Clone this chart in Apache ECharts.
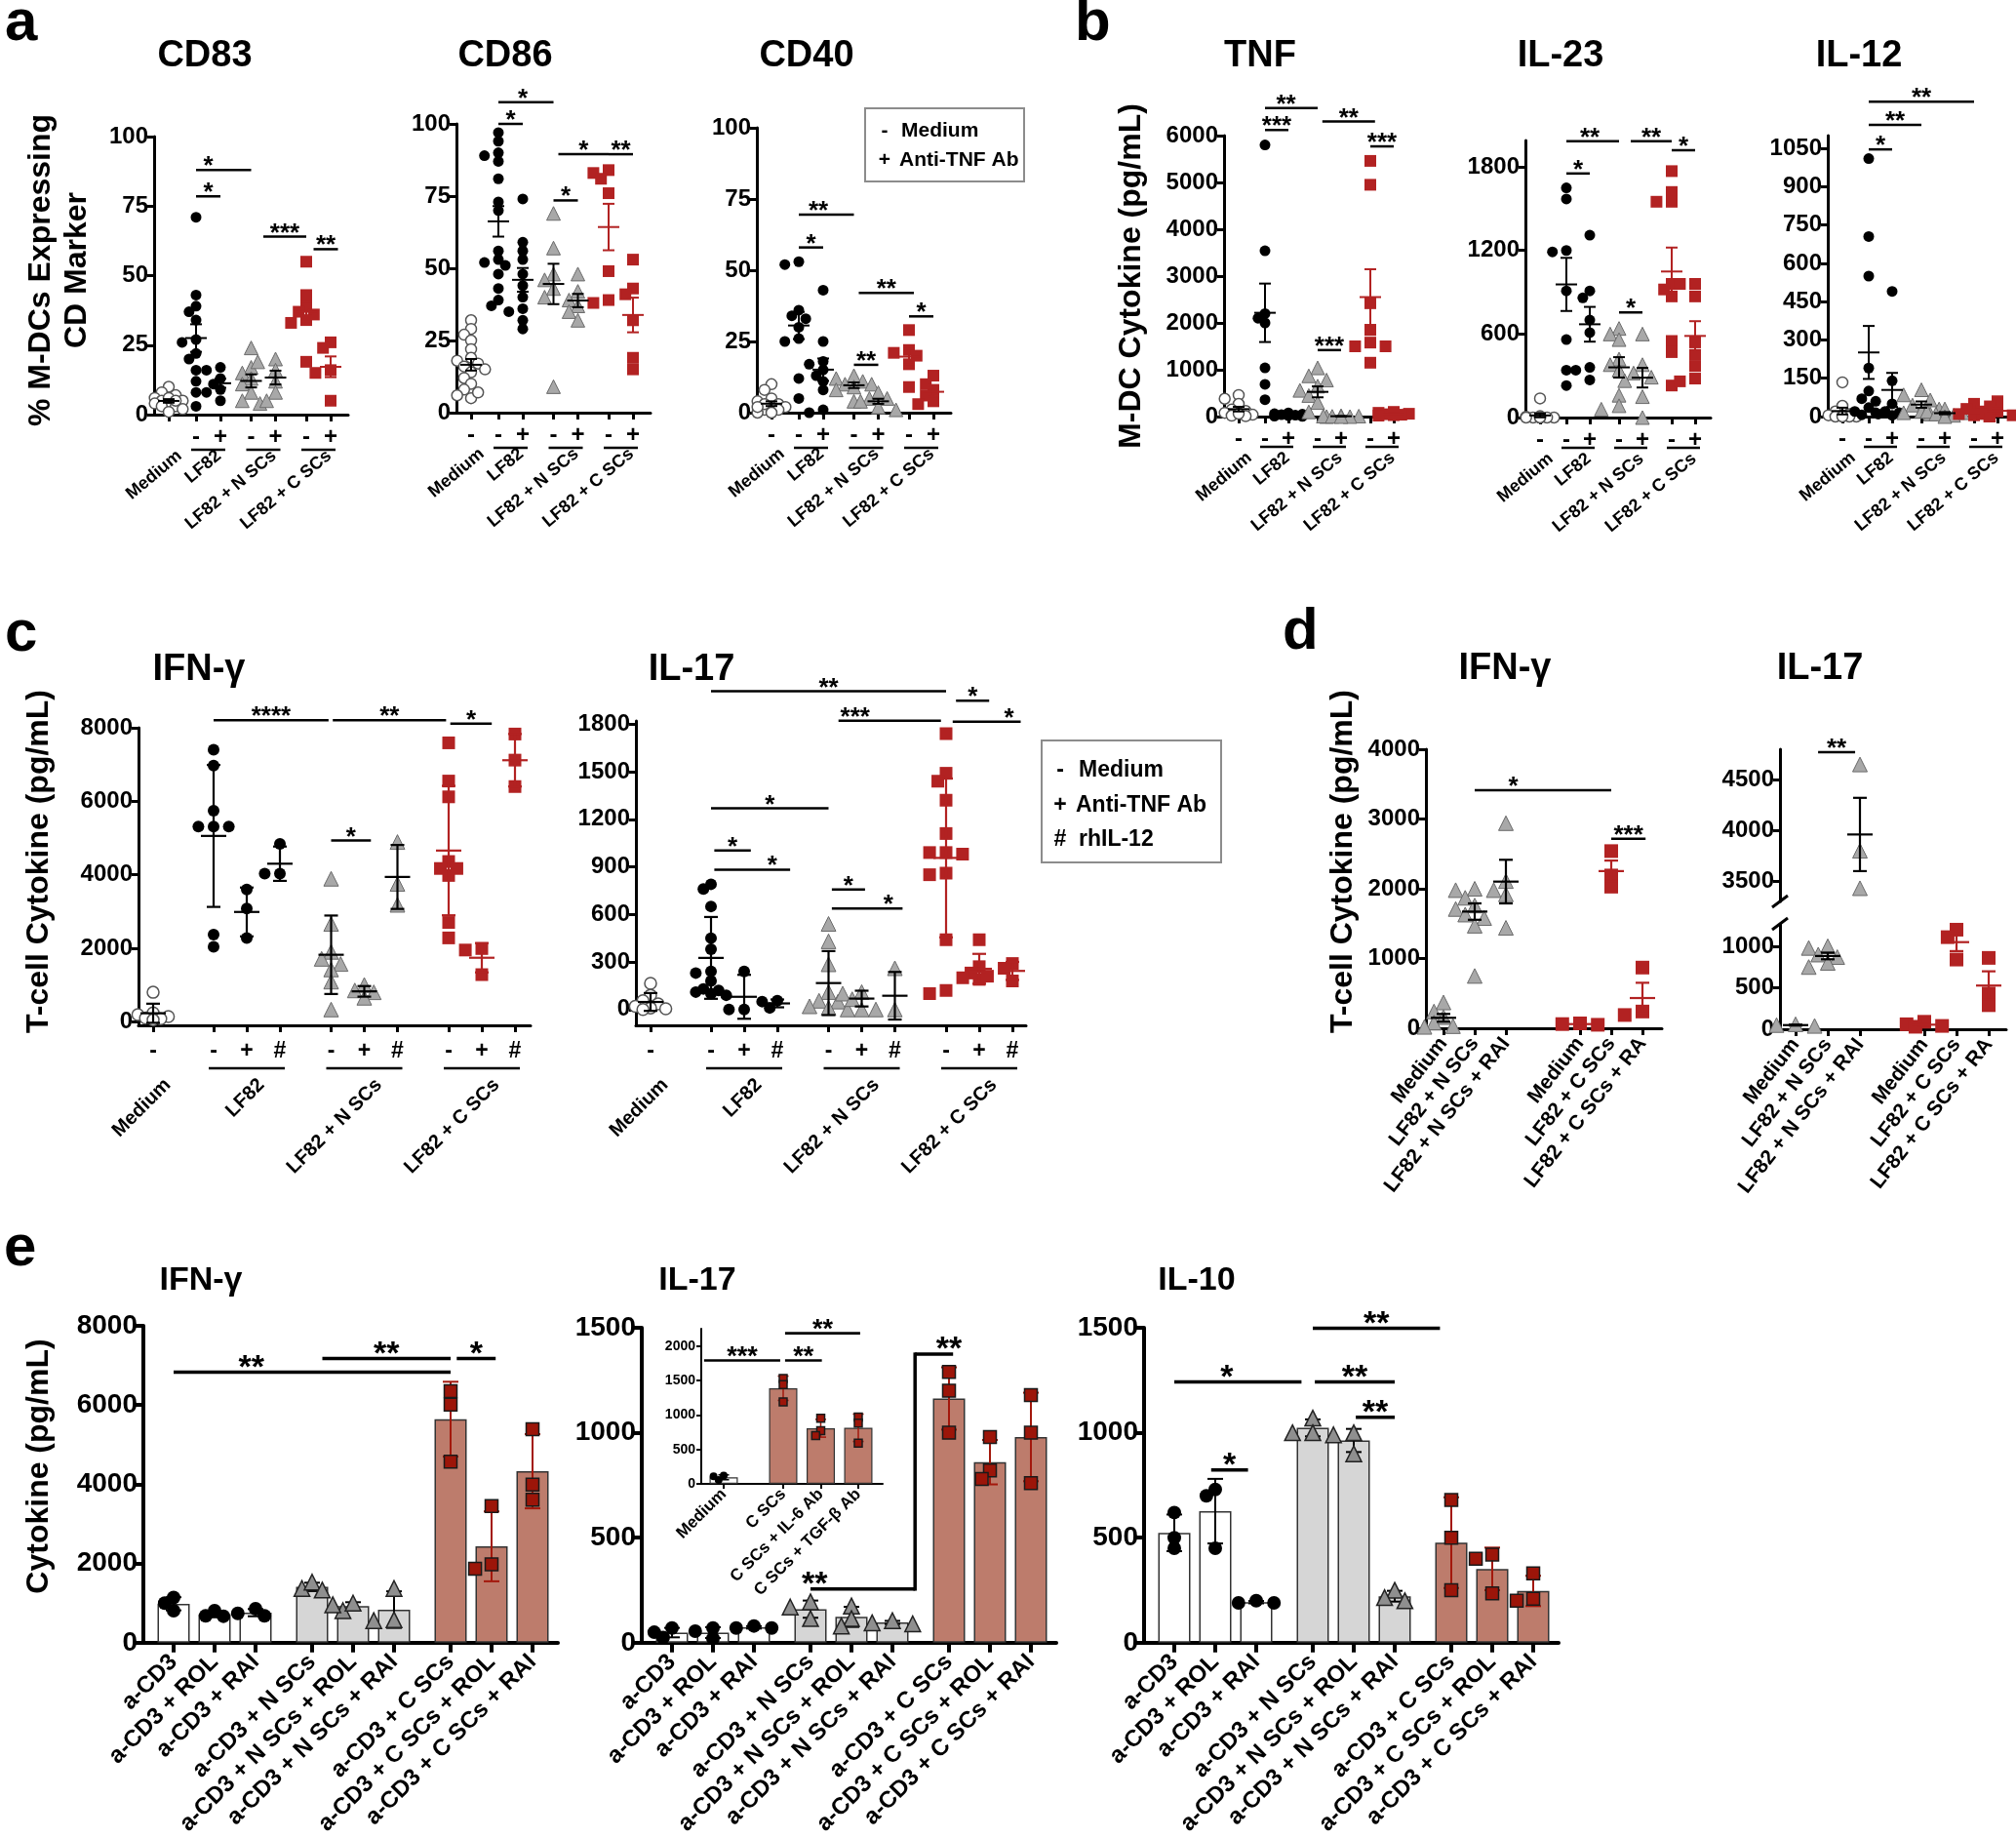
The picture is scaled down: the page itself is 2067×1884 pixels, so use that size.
<!DOCTYPE html>
<html>
<head>
<meta charset="utf-8">
<title>M-DC and T-cell cytokines</title>
<script src="https://cdn.jsdelivr.net/npm/echarts@6/dist/echarts.min.js"></script>
<style>
html, body { margin: 0; padding: 0; background: #fff; }
#container { width: 2067px; height: 1884px; }
</style>
</head>
<body>
<div id="container"></div>
<script>
var FONT = '"Liberation Sans", Arial, Helvetica, sans-serif';

// ---- panel a: % M-DCs expressing marker
// columns: Medium, LF82 -, LF82 +, LF82+N SCs -, +, LF82+C SCs -, +
var cd83 = [
  [10, 8, 7, 6, 5, 5, 4, 4, 3, 3, 2, 1, 6, 5],
  [71, 43, 39, 37, 34, 27, 26, 22, 20, 16, 12, 8, 3],
  [17, 16, 13, 11, 9, 8, 5],
  [24, 17, 15, 13, 11, 8, 5, 4],
  [20, 19, 16, 12, 8, 5],
  [55, 43, 39, 37, 36, 34, 33, 19],
  [26, 24, 16, 15, 5]
];
var cd86 = [
  [32, 29, 27, 25, 22, 19, 18, 17, 16, 15, 14, 12, 10, 8, 6, 5, 7],
  [97, 94, 90, 89, 87, 81, 73, 70, 56, 53, 52, 51, 48, 43, 39, 37],
  [74, 59, 56, 53, 48, 44, 40, 36, 35, 32, 29],
  [69, 57, 48, 46, 43, 40, 9],
  [48, 42, 39, 37, 35, 32],
  [84, 83, 81, 76, 49, 39, 38],
  [53, 43, 41, 32, 19, 15]
];
var cd40 = [
  [10, 8, 5, 4, 3, 2, 2, 1, 1, 0, 0, 3, 2],
  [53, 52, 36, 34, 33, 30, 26, 25, 12, 5],
  [43, 25, 18, 17, 15, 13, 11, 8, 1, 0],
  [13, 12, 11, 10, 10, 9, 8, 4],
  [7, 5, 5, 4, 2, 1],
  [29, 22, 21, 20, 17, 9],
  [13, 10, 8, 6, 4, 3]
];
// ---- panel b: M-DC cytokine (pg/mL)
var tnf = [
  [460, 380, 270, 150, 120, 80, 40, 20, 10, 60],
  [5800, 3540, 2200, 2100, 2000, 1040, 690, 360],
  [80, 60, 50, 40, 30, 20, 10, 5],
  [1040, 870, 780, 650, 560, 450, 300, 100, 0],
  [20, 10, 10, 5, 0, 0],
  [5460, 4950, 2420, 1850, 1580, 1500, 1500, 1150],
  [100, 80, 60, 50, 40, 30, 20]
];
var il23 = [
  [137, 10, 5, 0, 0, 0, 0, 0, 0, 0],
  [1650, 1570, 1200, 1190, 910, 560, 340, 230],
  [1310, 910, 860, 700, 610, 360, 340, 270],
  [640, 600, 560, 420, 380, 340, 160, 85, 60],
  [600, 380, 320, 290, 265, 150, 0],
  [1770, 1620, 1550, 1550, 960, 920, 870, 550, 470, 230],
  [960, 960, 870, 540, 450, 370, 280, 260]
];
var il12 = [
  [134, 42, 20, 10, 5, 5, 0, 0, 0, 0],
  [1010, 705, 550, 190, 100, 70, 60, 35, 20, 15, 7],
  [490, 140, 50, 20, 15, 10, 5],
  [105, 85, 65, 45, 30, 20, 15, 10],
  [30, 20, 15, 10, 5, 0],
  [50, 30, 20, 10, 5, 0],
  [60, 40, 20, 10, 5, 0]
];
// ---- panel c: T-cell cytokine (pg/mL)
// columns: Medium, LF82 - + #, LF82+N SCs - + #, LF82+C SCs - + #
var ifnC = [
  [800, 240, 190, 140, 100, 80, 50],
  [7400, 6970, 5740, 5310, 5310, 5310, 2370, 2040],
  [3600, 3080, 2280],
  [4840, 4030, 4030],
  [3890, 2660, 1900, 1710, 1570, 1420, 1090, 330],
  [1000, 850, 800, 650],
  [4890, 3750, 3180],
  [7590, 6550, 6120, 4360, 4170, 4170, 3980, 2700, 2280],
  [1990, 1950, 1280],
  [7830, 7120, 6400]
];
var il17C = [
  [165, 90, 55, 35, 20, 10, 5, 0],
  [790, 760, 650, 450, 380, 240, 230, 180, 130, 120, 110, 100, 90],
  [240, 0, 0],
  [55, 50, 10],
  [540, 430, 285, 110, 55, 50, 20, 10, 0],
  [110, 100, 65, 0],
  [260, 0, 0],
  [1740, 1490, 1440, 1320, 1110, 990, 990, 980, 860, 850, 440, 120, 100],
  [440, 270, 230, 210, 200, 190],
  [290, 260, 180]
];
// ---- panel d
var ifnD = [
  [370, 240, 160, 80, 30, 20],
  [2000, 1980, 1980, 1870, 1760, 1710, 1630, 1580, 1470, 750],
  [2940, 2110, 1920, 1440],
  [70, 60, 50],
  [2540, 2190, 2030],
  [870, 240, 190]
];
var il17D = [
  [60, 50, 40],
  [1000, 980, 900, 870, 800, 750],
  [4650, 3800, 3430],
  [90, 60, 40, 30],
  [1200, 1110, 840],
  [860, 430, 290]
];
// ---- panel e: cytokine (pg/mL), 3 replicates per bar
var ifnE = [[810, 1140, 1000], [670, 810, 680], [680, 740, 860], [1370, 1530, 1330], [810, 1000, 960], [580, 1370, 560], [6350, 6010, 4570], [3450, 1980, 1870], [5390, 3990, 3610]];
var il17E = [[70, 50, 25], [70, 55, 20], [70, 80, 70], [195, 170, 115], [175, 115, 80], [105, 95, 90], [1290, 1200, 1000], [980, 820, 780], [1180, 1000, 760]];
var il10E = [[620, 500, 450], [730, 700, 450], [190, 200, 190], [1070, 1000, 1000], [1000, 990, 900], [250, 200, 215], [680, 500, 250], [420, 400, 235], [330, 200, 210]];
var il17Inset = [[55, 120, 110], [1530, 1440, 1190], [950, 770, 700], [970, 880, 590]];

// significance: [from col, to col, level, text, text col, drop level]
var cd83Sig = [[1, 3, 88, '*', 1.5], [1, 2, 78.5, '*'], [3.5, 5, 64, '***'], [5.3, 6.3, 59.5, '**']];
var cd86Sig = [[1, 3, 107.5, '*', 2], [1, 2, 100, '*'], [3, 4, 73.5, '*'], [3.2, 5, 89.5, '*'], [5, 6, 89.5, '**']];
var cd40Sig = [[1, 3, 69.5, '**', 1.8], [1, 2, 58, '*'], [3.2, 5.2, 42, '**'], [3, 4, 16.8, '**'], [5, 6, 33.8, '*']];
var tnfSig = [[1, 3, 6590, '**', 1.9], [1, 2, 6120, '***'], [3.2, 5.2, 6300, '**'], [5, 6, 5770, '***'], [3, 4, 1420, '***']];
var il23Sig = [[1, 3, 1985, '**', 2], [1, 2, 1753, '*'], [3.5, 5, 1985, '**'], [5, 6, 1920, '*'], [3, 4, 755, '*']];
var il12Sig = [[1, 5, 1233, '**'], [1, 3, 1142, '**'], [1, 2, 1046, '*']];
var ifnCSig = [[1, 3.95, 8206, '****'], [4.05, 6.95, 8206, '**'], [7.05, 8.3, 8110, '*'], [4, 5.2, 4933, '*']];
var il17CSig = [[1, 7, 2008, '**'], [4.3, 6.9, 1822, '***', 4.8], [7.3, 8.3, 1947, '*'], [7.2, 9.25, 1815, '*', 8.9], [1, 4, 1269, '*'], [1.1, 2.2, 1003, '*'], [1.1, 3.25, 882, '*', 2.85], [4.1, 5.1, 757, '*'], [4.1, 6.15, 637, '*', 5.8]];
var ifnDSig = [[1, 4, 3411, '*', 2.1], [4, 5.1, 2717, '***']];
var il17DSig = [[0.7, 1.85, 4770, '**']];
var ifnESig = [[0, 6, 6833, '**', 1.9], [3.25, 6, 7178, '**'], [6.15, 7.1, 7178, '*']];
var il17ESig = [[3, 5.4, 256, '**', 3.1], [5.4, 6.1, 1374, '**', 6, 256]];
var il10ESig = [[0, 2.8, 1242, '*', 1.28], [3, 5.8, 1498, '**'], [3.05, 5, 1242, '**'], [4.05, 5, 1074, '**'], [0.9, 1.8, 823, '*']];
var insetSig = [[-0.33, 0.95, 1790, '***'], [1.05, 2.03, 1790, '**'], [1.05, 3.05, 2184, '**']];

// labels
var signsCD83 = ['', '-', '+', '-', '+', '-', '+'];
var signsAB = ['-', '-', '+', '-', '+', '-', '+'];
var signsC = ['-', '-', '+', '#', '-', '+', '#', '-', '+', '#'];
var groupNames = ['Medium', 'LF82', 'LF82 + N SCs', 'LF82 + C SCs'];
var groupsAB = [[0], [1, 2], [3, 4], [5, 6]];
var groupsC = [[0], [1, 2, 3], [4, 5, 6], [7, 8, 9]];
var dLabels = ['Medium', 'LF82 + N SCs', 'LF82 + N SCs + RAI', 'Medium', 'LF82 + C SCs', 'LF82 + C SCs + RA'];
var eLabels = ['a-CD3', 'a-CD3 + ROL', 'a-CD3 + RAI', 'a-CD3 + N SCs', 'a-CD3 + N SCs + ROL', 'a-CD3 + N SCs + RAI', 'a-CD3 + C SCs', 'a-CD3 + C SCs + ROL', 'a-CD3 + C SCs + RAI'];
var insetLabels = ['Medium', 'C SCs', 'C SCs + IL-6 Ab', 'C SCs + TGF-\u03b2 Ab'];

var kindsAB = ['open', 'black', 'black', 'grey', 'grey', 'red', 'red'];
var kindsC = ['open', 'black', 'black', 'black', 'grey', 'grey', 'grey', 'red', 'red', 'red'];
var kindsD = ['grey', 'grey', 'grey', 'red', 'red', 'red'];
var kindsE = ['black', 'black', 'black', 'grey', 'grey', 'grey', 'red', 'red', 'red'];
var kindsInset = ['black', 'red', 'red', 'red'];

// ---- styles
var RED = '#b22222';
var MARK = {
  black: { symbol: 'circle', color: '#000', border: '#000', bw: 0 },
  open: { symbol: 'circle', color: '#fff', border: '#555', bw: 1.5 },
  grey: { symbol: 'triangle', color: '#a8a8a8', border: '#6a6a6a', bw: 1 },
  red: { symbol: 'rect', color: RED, border: RED, bw: 0 }
};
var MARK_E = {
  black: { symbol: 'circle', color: '#000', border: '#000', bw: 0 },
  grey: { symbol: 'triangle', color: '#8f8f8f', border: '#222', bw: 1.5 },
  red: { symbol: 'rect', color: '#9c1509', border: '#1a1a1a', bw: 1.5 }
};
var BAR_FILL = { black: '#ffffff', grey: '#d6d6d6', red: '#bd7c6c' };

// column layout in px along each x axis
function layout(first, base, step, within, nGroups, perGroup) {
  var p = first == null ? [] : [first];
  for (var g = 0; g < nGroups; g++) {
    for (var k = 0; k < perGroup; k++) p.push(base + g * step + k * within);
  }
  return p;
}
var posA = layout(15, 43, 56.5, 25, 3, 2);
var posB = layout(15, 42, 54, 24, 3, 2);
var posC = layout(15, 77, 120.5, 34, 3, 3);
var posD1 = layout(null, 18, 140, 32, 2, 3);
var posD2 = layout(null, 16, 132, 33, 2, 3);
var posE = layout(null, 31, 142, 42, 3, 3);
var posInset = layout(23, 84, 0, 38.5, 1, 3);

function at(pos, i) {
  var n = pos.length;
  if (i <= 0) return pos[0] + i * (pos[1] - pos[0]);
  if (i >= n - 1) return pos[n - 1] + (i - n + 1) * (pos[n - 1] - pos[n - 2]);
  var k = Math.floor(i);
  return pos[k] + (i - k) * (pos[k + 1] - pos[k]);
}
function stats(v, mode) {
  var n = v.length, m = 0, s = 0, i;
  for (i = 0; i < n; i++) m += v[i];
  m /= n;
  for (i = 0; i < n; i++) s += (v[i] - m) * (v[i] - m);
  var sd = Math.sqrt(s / (n - 1));
  var e = mode === 'sd' ? sd : sd / Math.sqrt(n);
  return [m, m - e, m + e];
}
// spread points sideways when they would overlap (kept tight, overlap allowed)
function swarm(vals, ppy, size) {
  var order = vals.map(function (v, i) { return i; }).sort(function (a, b) { return vals[b] - vals[a]; });
  var placed = [], off = [];
  var step = size * 0.65;
  order.forEach(function (i) {
    var y = vals[i] * ppy, best = 0, bestD = -1;
    for (var k = 0; k < 5; k++) {
      var c = k === 0 ? 0 : (k % 2 ? -1 : 1) * Math.ceil(k / 2) * step;
      var d = Infinity;
      placed.forEach(function (p) { d = Math.min(d, Math.sqrt((p[0] - c) * (p[0] - c) + (p[1] - y) * (p[1] - y))); });
      if (d >= size * 0.75) { best = c; bestD = d; break; }
      if (d > bestD) { bestD = d; best = c; }
    }
    placed.push([best, y]);
    off[i] = best;
  });
  return off;
}

var option = { animation: false, backgroundColor: '#ffffff', grid: [], xAxis: [], yAxis: [], series: [], graphic: [] };

function addGrid(box, yMin, yMax, yTicks, fs, lw, tickLen) {
  var gi = option.grid.length;
  option.grid.push({ left: box[0], top: box[1], width: box[2], height: box[3] });
  option.yAxis.push({
    type: 'value', gridIndex: gi, min: yMin, max: yMax,
    splitLine: { show: false },
    axisLine: { show: true, onZero: false, lineStyle: { color: '#000', width: lw } },
    axisTick: { show: true, length: tickLen || 7, customValues: yTicks, lineStyle: { color: '#000', width: lw } },
    axisLabel: {
      show: true, customValues: yTicks, margin: 6, color: '#000', fontFamily: FONT, fontWeight: 'bold', fontSize: fs,
      formatter: function (v) { return String(v); }
    }
  });
  return gi;
}
function addX(gi, max, ticks, labels, o) {
  var xi = option.xAxis.length;
  option.xAxis.push({
    type: 'value', gridIndex: gi, min: 0, max: max, position: 'bottom', offset: o.offset || 0,
    splitLine: { show: false },
    axisLine: { show: o.line !== false, onZero: false, lineStyle: { color: '#000', width: o.lw || 2 } },
    axisTick: { show: o.tick !== false, length: o.tickLen || 7, customValues: ticks, lineStyle: { color: '#000', width: o.lw || 2 } },
    axisLabel: {
      show: !!labels, customValues: ticks, rotate: o.rotate || 0, margin: o.margin || 0,
      color: '#000', fontFamily: FONT, fontWeight: 'bold', fontSize: o.fs || 18,
      formatter: function (v) {
        for (var i = 0; i < ticks.length; i++) if (Math.abs(ticks[i] - v) < 1e-6) return labels[i];
        return '';
      }
    }
  });
  return xi;
}
function addPoints(xi, yi, vals, pos, kinds, marks, size, ppy, keep, z) {
  vals.forEach(function (col, c) {
    var m = marks[kinds[c]], s = size[kinds[c]];
    var off = swarm(col, ppy, s);
    var data = [];
    col.forEach(function (v, k) { if (!keep || keep(v)) data.push([pos[c] + off[k], v]); });
    if (!data.length) return;
    option.series.push({
      type: 'scatter', xAxisIndex: xi, yAxisIndex: yi, data: data, silent: true, clip: false, z: z || 3,
      symbol: m.symbol, symbolSize: s,
      itemStyle: { color: m.color, borderColor: m.border, borderWidth: m.bw, opacity: 1 }
    });
  });
}
function addErrors(xi, yi, vals, pos, kinds, o, keep) {
  var data = [], cols = [];
  vals.forEach(function (col, c) {
    var s = stats(col, o.err);
    if (keep && !keep(s[0])) return;
    data.push([pos[c], s[0], s[1], s[2]]);
    cols.push(kinds[c] === 'red' ? o.red : '#000');
  });
  option.series.push({
    type: 'custom', xAxisIndex: xi, yAxisIndex: yi, silent: true, z: o.errZ || 4, data: data,
    renderItem: function (params, api) {
      var x = api.value(0), col = cols[params.dataIndex];
      var m = api.coord([x, api.value(1)]), lo = api.coord([x, api.value(2)]), hi = api.coord([x, api.value(3)]);
      var st = { stroke: col, lineWidth: o.elw };
      var ch = [
        { type: 'line', shape: { x1: m[0], y1: lo[1], x2: m[0], y2: hi[1] }, style: st },
        { type: 'line', shape: { x1: m[0] - o.capW / 2, y1: lo[1], x2: m[0] + o.capW / 2, y2: lo[1] }, style: st },
        { type: 'line', shape: { x1: m[0] - o.capW / 2, y1: hi[1], x2: m[0] + o.capW / 2, y2: hi[1] }, style: st }
      ];
      if (o.meanW) ch.push({ type: 'line', shape: { x1: m[0] - o.meanW / 2, y1: m[1], x2: m[0] + o.meanW / 2, y2: m[1] }, style: st });
      return { type: 'group', children: ch };
    }
  });
}
function addSig(xi, yi, sig, pos, fs, lw) {
  option.series.push({
    type: 'custom', xAxisIndex: xi, yAxisIndex: yi, silent: true, z: 6,
    data: sig.map(function (s) { return [at(pos, s[0]), s[2]]; }),
    renderItem: function (params, api) {
      var s = sig[params.dataIndex];
      var a = api.coord([at(pos, s[0]), s[2]]), b = api.coord([at(pos, s[1]), s[2]]);
      var tx = s[4] != null ? api.coord([at(pos, s[4]), s[2]])[0] : (a[0] + b[0]) / 2;
      var st = { stroke: '#000', lineWidth: lw };
      var ch = [{ type: 'line', shape: { x1: a[0], y1: a[1], x2: b[0], y2: b[1] }, style: st }];
      if (s[5] != null) {
        var d = api.coord([at(pos, s[0]), s[5]]);
        ch.push({ type: 'line', shape: { x1: a[0], y1: a[1] - lw / 2, x2: d[0], y2: d[1] + lw / 2 }, style: st });
      }
      ch.push({ type: 'text', x: tx, y: a[1] - fs * 0.12, style: { text: s[3], fill: '#000', font: 'bold ' + fs + 'px ' + FONT, align: 'center', verticalAlign: 'middle' } });
      return { type: 'group', children: ch };
    }
  });
}
function addUnder(xi, yi, groups, pos, yBase, dy, lw) {
  var g2 = groups.filter(function (g) { return g.length > 1; });
  option.series.push({
    type: 'custom', xAxisIndex: xi, yAxisIndex: yi, silent: true, z: 5,
    data: g2.map(function (g) { return [pos[g[0]], yBase]; }),
    renderItem: function (params, api) {
      var g = g2[params.dataIndex];
      var a = api.coord([pos[g[0]], yBase]), b = api.coord([pos[g[g.length - 1]], yBase]);
      return { type: 'line', shape: { x1: a[0] - 5, y1: a[1] + dy, x2: b[0] + 5, y2: b[1] + dy }, style: { stroke: '#000', lineWidth: lw } };
    }
  });
}

function scatterPanel(p) {
  var gi = addGrid(p.box, p.yMin, p.yMax, p.yTicks, p.fs, p.lw);
  var w = p.box[2], h = p.box[3];
  var xi = addX(gi, w, p.pos, p.signs, { lw: p.lw, fs: p.signFs, margin: p.signMargin, rotate: p.labelRotate || 0 });
  if (p.groups) {
    var centers = p.groups.map(function (g) { return (p.pos[g[0]] + p.pos[g[g.length - 1]]) / 2 + p.nameShift; });
    addX(gi, w, centers, p.groupNames, { line: false, tick: false, fs: p.nameFs, rotate: p.rotate, offset: p.nameOffset, margin: 0 });
    addUnder(xi, gi, p.groups, p.pos, p.yMin, p.underDy, 2.5);
  }
  var ppy = h / (p.yMax - p.yMin);
  addPoints(xi, gi, p.vals, p.pos, p.kinds, MARK, p.size, ppy, null, 3);
  addErrors(xi, gi, p.vals, p.pos, p.kinds, p);
  addSig(xi, gi, p.sig, p.pos, p.sigFs, p.sigLw);
}

function barPanel(p) {
  var gi = addGrid(p.box, 0, p.yMax, p.yTicks, p.fs, p.lw, p.tickLen);
  var xi = addX(gi, p.box[2], p.pos, p.labels, { lw: p.lw, fs: p.labelFs, rotate: 45, margin: p.margin, tickLen: p.tickLen });
  option.series.push({
    type: 'bar', xAxisIndex: xi, yAxisIndex: gi, barWidth: p.barW, silent: true, z: 2,
    data: p.vals.map(function (col, c) {
      return { value: [p.pos[c], stats(col, 'sd')[0]], itemStyle: { color: BAR_FILL[p.kinds[c]], borderColor: '#333', borderWidth: p.barBorder } };
    })
  });
  addErrors(xi, gi, p.vals, p.pos, p.kinds, { err: 'sd', red: '#a3180c', elw: p.elw, capW: p.capW, meanW: 0, errZ: 3 });
  addPoints(xi, gi, p.vals, p.pos, p.kinds, MARK_E, p.size, p.box[3] / p.yMax, null, 4);
  addSig(xi, gi, p.sig, p.pos, p.sigFs, p.sigLw);
}

function merge(a, b) {
  var o = {}, k;
  for (k in a) o[k] = a[k];
  for (k in b) o[k] = b[k];
  return o;
}

// ---- panel a
var A = {
  yMin: 0, yMax: 100, yTicks: [0, 25, 50, 75, 100], pos: posA, kinds: kindsAB, groups: groupsAB, groupNames: groupNames,
  fs: 24, lw: 3, signFs: 24, signMargin: 11, nameFs: 18, rotate: 40, nameOffset: 40, nameShift: 11, underDy: 36,
  size: { black: 11, open: 11, grey: 14, red: 12 }, err: 'sem', meanW: 22, capW: 12, elw: 2, sigFs: 26, sigLw: 2.5, red: RED, errZ: 4
};
scatterPanel(merge(A, { box: [158, 140, 199, 285], vals: cd83, signs: signsCD83, sig: cd83Sig }));
scatterPanel(merge(A, { box: [468, 127, 199, 296], vals: cd86, signs: signsAB, sig: cd86Sig }));
scatterPanel(merge(A, { box: [776, 131, 199, 292], vals: cd40, signs: signsAB, sig: cd40Sig }));

// ---- panel b
var B = merge(A, { pos: posB, underDy: 31 });
scatterPanel(merge(B, { box: [1255, 139, 190, 288], yMax: 6000, yTicks: [0, 1000, 2000, 3000, 4000, 5000, 6000], vals: tnf, signs: signsAB, sig: tnfSig }));
scatterPanel(merge(B, { box: [1564, 144, 190, 284], yMax: 1990, yTicks: [0, 600, 1200, 1800], vals: il23, signs: signsAB, sig: il23Sig }));
scatterPanel(merge(B, { box: [1874, 139, 190, 288], yMax: 1100, yTicks: [0, 150, 300, 450, 600, 750, 900, 1050], vals: il12, signs: signsAB, sig: il12Sig }));

// ---- panel c
var C = merge(A, {
  yMin: -100, pos: posC, kinds: kindsC, groups: groupsC, signFs: 23, signMargin: 15, nameFs: 20, rotate: 45, nameOffset: 58, nameShift: 15,
  underDy: 44, size: { black: 12, open: 12, grey: 15, red: 13 }, err: 'sd', meanW: 26, capW: 14, elw: 2.2
});
scatterPanel(merge(C, { box: [142, 746, 402, 305], yMax: 8000, yTicks: [0, 2000, 4000, 6000, 8000], vals: ifnC, signs: signsC, sig: ifnCSig }));
scatterPanel(merge(C, { box: [652, 739, 400, 312], yMax: 1820, yTicks: [0, 300, 600, 900, 1200, 1500, 1800], vals: il17C, signs: signsC, sig: il17CSig }));

// ---- panel d
var D = merge(A, { pos: posD1, kinds: kindsD, groups: null, signFs: 21, signMargin: 12, labelRotate: 52, size: { grey: 15, red: 14 }, meanW: 26, capW: 14, elw: 2.2 });
scatterPanel(merge(D, { box: [1462, 768, 242, 286], yMax: 4000, yTicks: [0, 1000, 2000, 3000, 4000], vals: ifnD, signs: dLabels, sig: ifnDSig }));

// IL-17 with a broken axis: two stacked grids
var dTop = addGrid([1825, 768, 232, 156], 3300, 4800, [3500, 4000, 4500], 24, 3);
var dTopX = addX(dTop, 232, posD2, null, { line: false, tick: false });
var dBot = addGrid([1825, 947, 232, 108], 0, 1270, [0, 500, 1000], 24, 3);
var dBotX = addX(dBot, 232, posD2, dLabels, { lw: 3, fs: 21, rotate: 52, margin: 12 });
var D2 = merge(D, { pos: posD2 });
addPoints(dTopX, dTop, il17D, posD2, kindsD, MARK, D.size, 156 / 1500, function (v) { return v > 1270; }, 3);
addPoints(dBotX, dBot, il17D, posD2, kindsD, MARK, D.size, 108 / 1270, function (v) { return v <= 1270; }, 3);
addErrors(dTopX, dTop, il17D, posD2, kindsD, D2, function (m) { return m > 1270; });
addErrors(dBotX, dBot, il17D, posD2, kindsD, D2, function (m) { return m <= 1270; });
addSig(dTopX, dTop, il17DSig, posD2, 26, 2.5);

// ---- panel e
var E = {
  yTicks: [0, 500, 1000, 1500], pos: posE, kinds: kindsE, labels: eLabels, fs: 28, lw: 4, tickLen: 10, labelFs: 24, margin: 16,
  barW: 33, barBorder: 1.5, elw: 2, capW: 16, size: { black: 14, grey: 16, red: 13 }, sigFs: 34, sigLw: 3.5
};
barPanel(merge(E, { box: [147, 1359, 425, 327], yMax: 8000, yTicks: [0, 2000, 4000, 6000, 8000], vals: ifnE, sig: ifnESig }));
barPanel(merge(E, { box: [658, 1361, 425, 325], yMax: 1500, vals: il17E, sig: il17ESig }));
barPanel(merge(E, { box: [1173, 1361, 425, 325], yMax: 1500, vals: il10E, sig: il10ESig }));
barPanel(merge(E, {
  box: [719, 1362, 186, 159], yMax: 2250, yTicks: [0, 500, 1000, 1500, 2000], pos: posInset, kinds: kindsInset, labels: insetLabels,
  fs: 14, lw: 2, tickLen: 5, labelFs: 17, margin: 8, barW: 29, barBorder: 1.2, elw: 1.5, capW: 11, size: { black: 8, red: 8 },
  vals: il17Inset, sig: insetSig, sigFs: 27, sigLw: 2.7
}));

// ---- titles, panel letters, axis titles, legends
function text(x, y, s, size, o) {
  o = o || {};
  option.graphic.push({
    type: 'text', x: x, y: y, rotation: o.rot || 0, silent: true, z: 10,
    style: { text: s, fill: '#000', font: 'bold ' + size + 'px ' + FONT, align: o.align || 'center', verticalAlign: o.va || 'middle', lineHeight: o.lh || size * 1.15 }
  });
}
[['a', 5, 59], ['b', 1102, 59], ['c', 5, 685], ['d', 1315, 683], ['e', 4, 1315]].forEach(function (l) {
  text(l[1], l[2], l[0], 60, { align: 'left', va: 'bottom' });
});
[['CD83', 210, 58], ['CD86', 518, 58], ['CD40', 827, 58], ['TNF', 1292, 58], ['IL-23', 1600, 58], ['IL-12', 1906, 58],
 ['IFN-\u03b3', 204, 687], ['IL-17', 709, 687], ['IFN-\u03b3', 1543, 686], ['IL-17', 1866, 686],
 ['IFN-\u03b3', 206, 1313], ['IL-17', 715, 1313], ['IL-10', 1227, 1313]].forEach(function (t) {
  text(t[1], t[2], t[0], t[2] > 1200 ? 34 : 38);
});
text(61, 277, '% M-DCs Expressing\nCD Marker', 32, { rot: Math.PI / 2, lh: 37 });
text(1160, 283, 'M-DC Cytokine (pg/mL)', 32, { rot: Math.PI / 2 });
text(40, 883, 'T-cell Cytokine (pg/mL)', 32, { rot: Math.PI / 2 });
text(1377, 883, 'T-cell Cytokine (pg/mL)', 32, { rot: Math.PI / 2 });
text(40, 1503, 'Cytokine (pg/mL)', 32, { rot: Math.PI / 2 });

option.graphic.push({ type: 'rect', x: 887, y: 111, shape: { x: 0, y: 0, width: 163, height: 75 }, silent: true, z: 9, style: { fill: '#fff', stroke: '#8c8c8c', lineWidth: 2 } });
text(907, 134, '-', 21);
text(924, 134, 'Medium', 21, { align: 'left' });
text(907, 164, '+', 21);
text(922, 164, 'Anti-TNF Ab', 21, { align: 'left' });

option.graphic.push({ type: 'rect', x: 1068, y: 759, shape: { x: 0, y: 0, width: 184, height: 125 }, silent: true, z: 9, style: { fill: '#fff', stroke: '#8c8c8c', lineWidth: 2 } });
text(1087, 790, '-', 23);
text(1106, 790, 'Medium', 23, { align: 'left' });
text(1087, 826, '+', 23);
text(1103, 826, 'Anti-TNF Ab', 23, { align: 'left' });
text(1087, 861, '#', 23);
text(1106, 861, 'rhIL-12', 23, { align: 'left' });

// axis break marks for panel d IL-17
[924, 947].forEach(function (y) {
  option.graphic.push({ type: 'line', silent: true, z: 10, shape: { x1: 1817, y1: y + 6, x2: 1833, y2: y - 6 }, style: { stroke: '#000', lineWidth: 3 } });
});

var myChart = echarts.init(document.getElementById('container'));
myChart.setOption(option);
</script>
</body>
</html>
